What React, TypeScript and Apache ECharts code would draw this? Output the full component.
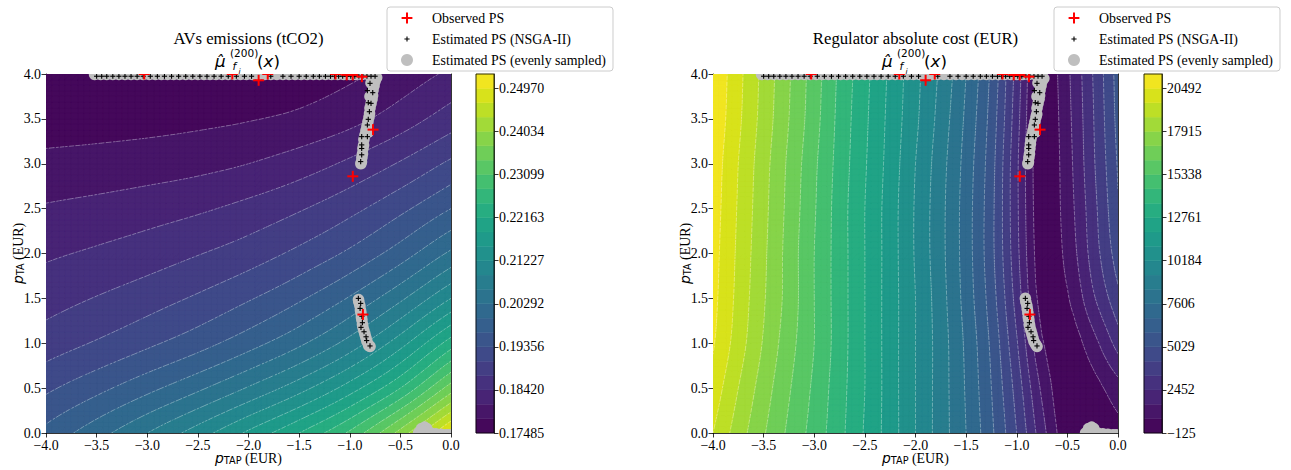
import React, { useEffect, useRef } from 'react';
import * as echarts from 'echarts';

// ---------------- data ----------------
const axisTicksX = [-4, -3.5, -3, -2.5, -2, -1.5, -1, -0.5, 0];
const axisTicksY = [0, 0.5, 1, 1.5, 2, 2.5, 3, 3.5, 4];

// Emissions surrogate mean (tCO2), rows = y (0 -> 4), cols = x (-4 -> 0)
const emissionsGridX = [-4, -3.5, -3, -2.5, -2, -1.5, -1, -0.5, 0];
const emissionsGridY = [0, 0.5, 1, 1.5, 2, 2.5, 3, 3.5, 4];
const emissionsValues = [
  [0.19762, 0.20167, 0.20604, 0.21072, 0.21602, 0.22163, 0.22849, 0.23847, 0.25064],
  [0.19294, 0.19575, 0.19887, 0.2023, 0.20635, 0.21103, 0.21695, 0.22475, 0.23567],
  [0.18888, 0.19076, 0.19294, 0.19543, 0.19855, 0.2023, 0.20729, 0.21415, 0.22319],
  [0.18608, 0.18748, 0.18904, 0.19091, 0.19325, 0.19621, 0.20011, 0.20541, 0.21228],
  [0.18374, 0.18467, 0.18577, 0.18717, 0.18888, 0.19122, 0.19419, 0.19824, 0.20354],
  [0.1814, 0.18202, 0.1828, 0.18374, 0.18514, 0.18701, 0.18951, 0.19278, 0.19668],
  [0.17875, 0.17906, 0.17953, 0.18015, 0.18109, 0.18265, 0.18483, 0.18764, 0.19107],
  [0.17672, 0.17688, 0.17703, 0.17735, 0.17781, 0.17859, 0.18015, 0.18265, 0.18577],
  [0.17579, 0.17579, 0.17579, 0.17594, 0.1761, 0.17641, 0.17735, 0.17922, 0.18171],
];
const emissionsColorbarTicks = [0.17485, 0.1842, 0.19356, 0.20292, 0.21227, 0.22163, 0.23099, 0.24034, 0.2497];
const emissionsColorbarLabels = ['0.17485', '0.18420', '0.19356', '0.20292', '0.21227', '0.22163', '0.23099', '0.24034', '0.24970'];

// Regulator absolute cost (EUR), rows = y (0 -> 4), cols = x (-4 -> 0)
const costGridX = [-4, -3.75, -3.5, -3.25, -3, -2.75, -2.5, -2.25, -2, -1.75, -1.5, -1.25, -1, -0.75, -0.5, -0.25, 0];
const costGridY = [0, 0.5, 1, 1.5, 2, 2.5, 3, 3.5, 4];
const costValues = [
  [19633, 18344, 17142, 16025, 14994, 13878, 12675, 11472, 10184, 8895, 7606, 6060, 4170, 1937, 133, 47, 390],
  [20148, 18774, 17486, 16283, 15166, 13964, 12761, 11472, 10184, 8895, 7520, 5888, 3827, 1421, 4, 390, 1249],
  [20578, 19203, 17829, 16540, 15338, 14049, 12761, 11472, 10184, 8895, 7435, 5716, 3397, 820, 219, 1249, 2796],
  [20750, 19375, 18001, 16712, 15338, 14049, 12761, 11472, 10184, 8809, 7263, 5459, 2968, 390, 648, 2280, 3913],
  [20836, 19461, 18087, 16712, 15338, 14049, 12761, 11472, 10098, 8723, 7177, 5287, 2710, 219, 992, 2796, 4600],
  [20922, 19547, 18173, 16798, 15424, 14049, 12761, 11472, 10098, 8723, 7177, 5287, 2624, 133, 1164, 2968, 4943],
  [21008, 19633, 18258, 16884, 15509, 14135, 12847, 11558, 10184, 8809, 7263, 5373, 2624, 90, 1249, 3139, 5115],
  [21179, 19805, 18430, 17056, 15681, 14221, 12933, 11644, 10355, 8981, 7435, 5545, 2796, 133, 1335, 3225, 5287],
  [21265, 19891, 18516, 17142, 15767, 14307, 13019, 11730, 10441, 9153, 7606, 5716, 2968, 219, 1421, 3311, 5373],
];
const costColorbarTicks = [-125, 2452, 5029, 7606, 10184, 12761, 15338, 17915, 20492];
const costColorbarLabels = ['\u2212125', '2452', '5029', '7606', '10184', '12761', '15338', '17915', '20492'];

// Pareto sets (same parameter space in both panels): [pTAP, pTA]
const observedPoints = [
  [-3.03, 4.0], [-2.16, 4.0], [-1.9, 3.93], [-1.81, 4.0], [-1.14, 4.0], [-1.03, 3.99],
  [-0.97, 3.99], [-0.88, 3.97], [-0.77, 3.38], [-0.97, 2.86], [-0.87, 1.32],
];
const nsgaPoints = [
  [-3.5, 3.975], [-3.45, 3.975], [-3.4, 3.975], [-3.34, 3.975], [-3.28, 3.975], [-3.22, 3.975],
  [-3.16, 3.975], [-3.1, 3.975], [-3.04, 3.975], [-2.97, 3.975], [-2.9, 3.975], [-2.83, 3.975],
  [-2.76, 3.975], [-2.69, 3.975], [-2.62, 3.975], [-2.55, 3.975], [-2.48, 3.975], [-2.41, 3.975],
  [-2.34, 3.975], [-2.27, 3.975], [-2.2, 3.975], [-2.12, 3.975], [-2.04, 3.975], [-1.97, 3.975],
  [-1.78, 3.975], [-1.66, 3.975], [-1.58, 3.975], [-1.5, 3.975], [-1.43, 3.975], [-1.36, 3.975],
  [-1.3, 3.975], [-1.24, 3.975], [-1.19, 3.975], [-1.15, 3.975], [-1.11, 3.975], [-1.07, 3.975],
  [-1.03, 3.975], [-0.99, 3.975], [-0.95, 3.975], [-0.91, 3.975], [-0.87, 3.975], [-0.83, 3.975],
  [-0.79, 3.975], [-0.75, 3.975],
  [-0.8, 3.896], [-0.826, 3.815], [-0.773, 3.792], [-0.817, 3.68], [-0.79, 3.673], [-0.806, 3.58],
  [-0.817, 3.495], [-0.826, 3.432], [-0.882, 3.302], [-0.826, 3.302], [-0.882, 3.21], [-0.882, 3.17],
  [-0.882, 3.1], [-0.892, 3.024],
  [-0.915, 1.5], [-0.892, 1.444], [-0.898, 1.388], [-0.88, 1.3], [-0.875, 1.229], [-0.889, 1.177],
  [-0.859, 1.128], [-0.839, 1.072], [-0.833, 1.03], [-0.8, 0.97],
];
const sampledPoints = [
  [-3.52, 3.995], [-3.46, 3.995], [-3.4, 3.995], [-3.34, 3.995], [-3.28, 3.995], [-3.22, 3.995],
  [-3.16, 3.995], [-3.1, 3.995], [-3.04, 3.995], [-2.98, 3.995], [-2.92, 3.995], [-2.86, 3.995],
  [-2.8, 3.995], [-2.74, 3.995], [-2.68, 3.995], [-2.62, 3.995], [-2.56, 3.995], [-2.5, 3.995],
  [-2.44, 3.995], [-2.38, 3.995], [-2.32, 3.995], [-2.26, 3.995], [-2.2, 3.995], [-2.14, 3.995],
  [-2.08, 3.995], [-2.02, 3.995], [-1.96, 3.995], [-1.9, 3.995], [-1.84, 3.995], [-1.78, 3.995],
  [-1.72, 3.995], [-1.66, 3.995], [-1.6, 3.995], [-1.54, 3.995], [-1.48, 3.995], [-1.42, 3.995],
  [-1.36, 3.995], [-1.3, 3.995], [-1.24, 3.995], [-1.18, 3.995], [-1.12, 3.995], [-1.06, 3.995],
  [-1.0, 3.995], [-0.94, 3.995], [-0.88, 3.995], [-0.82, 3.995], [-0.76, 3.995],
  [-0.735, 3.97], [-0.75, 3.92], [-0.76, 3.87], [-0.77, 3.82], [-0.775, 3.77], [-0.78, 3.72],
  [-0.79, 3.67], [-0.8, 3.62], [-0.805, 3.57], [-0.81, 3.52], [-0.82, 3.47], [-0.83, 3.42],
  [-0.84, 3.37], [-0.85, 3.32], [-0.86, 3.27], [-0.865, 3.22], [-0.87, 3.17], [-0.875, 3.12],
  [-0.88, 3.07], [-0.885, 3.03], [-0.89, 3.0], [-0.79, 3.9], [-0.8, 3.75], [-0.82, 3.35],
  [-0.915, 1.5], [-0.91, 1.46], [-0.9, 1.42], [-0.895, 1.38], [-0.89, 1.34], [-0.885, 1.3],
  [-0.88, 1.26], [-0.875, 1.22], [-0.87, 1.18], [-0.86, 1.14], [-0.85, 1.1], [-0.84, 1.06],
  [-0.83, 1.02], [-0.815, 0.99], [-0.8, 0.965],
  [-0.32, 0.0], [-0.29, 0.05], [-0.26, 0.065], [-0.24, 0.05], [-0.28, 0.02], [-0.2, 0.0],
  [-0.15, -0.01], [-0.1, -0.015], [-0.05, -0.02], [-0.02, -0.02],
];

// ---------------- styling helpers ----------------
const F = "'Liberation Serif', 'Times New Roman', serif";
const M = "'DejaVu Sans', sans-serif";
const BANDS_PER_TICK = 3;
const VIRIDIS = ['#440154', '#471365', '#482475', '#463480', '#414487', '#3b528b', '#355f8d', '#2f6c8e', '#2a788e', '#25848e', '#21918c', '#1e9c89', '#22a884', '#2fb47c', '#44bf70', '#5ec962', '#7ad151', '#9bd93c', '#bddf26', '#dfe318', '#fde725'];

function hexRgb(h: string) { return [1, 3, 5].map((i) => parseInt(h.slice(i, i + 2), 16)); }
function viridis(t: number) {
  const n = VIRIDIS.length - 1;
  const f = Math.min(Math.max(t, 0), 1) * n;
  const i = Math.min(Math.floor(f), n - 1);
  const u = f - i;
  const a = hexRgb(VIRIDIS[i]);
  const b = hexRgb(VIRIDIS[i + 1]);
  const c = a.map((v, k) => Math.round(v + (b[k] - v) * u));
  return `rgb(${c[0]},${c[1]},${c[2]})`;
}
function makeLevels(ticks: number[]) {
  const nb = (ticks.length - 1) * BANDS_PER_TICK;
  const step = (ticks[ticks.length - 1] - ticks[0]) / nb;
  const out: number[] = [];
  for (let k = 0; k <= nb + 1; k++) out.push(ticks[0] + k * step);
  return out;
}
function crSample(arr: number[], f: number) {
  const n = arr.length;
  let i = Math.floor(f);
  if (i > n - 2) i = n - 2;
  if (i < 0) i = 0;
  const t = f - i;
  const g = (k: number) => (k < 0 ? 2 * arr[0] - arr[1] : k > n - 1 ? 2 * arr[n - 1] - arr[n - 2] : arr[k]);
  const p0 = g(i - 1), p1 = g(i), p2 = g(i + 1), p3 = g(i + 2);
  return 0.5 * (2 * p1 + (p2 - p0) * t + (2 * p0 - 5 * p1 + 4 * p2 - p3) * t * t + (3 * p1 - p0 - 3 * p2 + p3) * t * t * t);
}
function refineField(gx: number[], gy: number[], vals: number[][], nx: number, ny: number) {
  const xs: number[] = [], ys: number[] = [];
  for (let i = 0; i <= nx; i++) xs.push(gx[0] + ((gx[gx.length - 1] - gx[0]) * i) / nx);
  for (let j = 0; j <= ny; j++) ys.push(gy[0] + ((gy[gy.length - 1] - gy[0]) * j) / ny);
  const rows = vals.map((row) => xs.map((_, i) => crSample(row, (i * (gx.length - 1)) / nx)));
  const v = ys.map((_, j) => xs.map((_, i) => crSample(rows.map((r) => r[i]), (j * (gy.length - 1)) / ny)));
  return { xs, ys, v };
}
function pixelGrid(api: any, field: any) {
  return field.ys.map((y: number, j: number) => field.xs.map((x: number, i: number) => {
    const p = api.coord([x, y]);
    return [p[0], p[1], field.v[j][i]];
  }));
}
function forEachTri(G: number[][][], cb: (t: number[][]) => void) {
  for (let j = 0; j < G.length - 1; j++) {
    for (let i = 0; i < G[0].length - 1; i++) {
      const a = G[j][i], b = G[j][i + 1], c = G[j + 1][i + 1], d = G[j + 1][i];
      cb([a, b, c]);
      cb([a, c, d]);
    }
  }
}
function clipPoly(poly: number[][], lvl: number, above: boolean) {
  const out: number[][] = [];
  for (let a = 0; a < poly.length; a++) {
    const P = poly[a], Q = poly[(a + 1) % poly.length];
    const pin = above ? P[2] >= lvl : P[2] <= lvl;
    const qin = above ? Q[2] >= lvl : Q[2] <= lvl;
    if (pin) out.push(P);
    if (pin !== qin) {
      const t = (lvl - P[2]) / (Q[2] - P[2]);
      out.push([P[0] + t * (Q[0] - P[0]), P[1] + t * (Q[1] - P[1]), lvl]);
    }
  }
  return out;
}
function bandPath(G: number[][][], lo: number, hi: number) {
  let s = '';
  forEachTri(G, (tri) => {
    const mn = Math.min(tri[0][2], tri[1][2], tri[2][2]);
    const mx = Math.max(tri[0][2], tri[1][2], tri[2][2]);
    if (mx < lo || mn >= hi) return;
    let poly = tri;
    if (mn < lo) poly = clipPoly(poly, lo, true);
    if (poly.length >= 3 && mx > hi) poly = clipPoly(poly, hi, false);
    if (poly.length < 3) return;
    s += 'M' + poly.map((p) => p[0].toFixed(2) + ' ' + p[1].toFixed(2)).join('L') + 'Z';
  });
  return s;
}
function levelPath(G: number[][][], L: number) {
  let s = '';
  forEachTri(G, (tri) => {
    const pts: number[][] = [];
    for (let e = 0; e < 3; e++) {
      const P = tri[e], Q = tri[(e + 1) % 3];
      if ((P[2] < L) !== (Q[2] < L)) {
        const t = (L - P[2]) / (Q[2] - P[2]);
        pts.push([P[0] + t * (Q[0] - P[0]), P[1] + t * (Q[1] - P[1])]);
      }
    }
    if (pts.length === 2) s += `M${pts[0][0].toFixed(2)} ${pts[0][1].toFixed(2)}L${pts[1][0].toFixed(2)} ${pts[1][1].toFixed(2)}`;
  });
  return s;
}

const fmtAxis = (v: number) => (v < -1e-9 ? '\u2212' : '') + Math.abs(v).toFixed(1);
const nameRich = {
  p: { fontFamily: M, fontStyle: 'italic', fontSize: 13.9, color: '#000', lineHeight: 14 },
  s: { fontFamily: M, fontSize: 9.7, color: '#000', lineHeight: 9, verticalAlign: 'bottom' },
  n: { fontFamily: F, fontSize: 13.9, color: '#000', lineHeight: 14 },
};
const lineStyleK = { color: '#000', width: 0.8 };

function fieldSeries(field: any, levels: number[], xi: number, yi: number) {
  const nb = levels.length - 1;
  const colors: string[] = [];
  for (let k = 0; k < nb; k++) colors.push(viridis((k + 0.5) / nb));
  const fill = {
    type: 'custom', name: 'field', xAxisIndex: xi, yAxisIndex: yi, clip: true, silent: true, z: 1,
    data: colors.map((_, k) => [k, 0]),
    renderItem: (params: any, api: any) => {
      const k = api.value(0);
      const G = pixelGrid(api, field);
      const d = bandPath(G, k === 0 ? -Infinity : levels[k], k === nb - 1 ? Infinity : levels[k + 1]);
      if (!d) return { type: 'group', children: [] };
      return { type: 'path', shape: { pathData: d }, style: { fill: colors[k], stroke: colors[k], lineWidth: 0.6 } };
    },
  };
  const lines = {
    type: 'custom', name: 'contours', xAxisIndex: xi, yAxisIndex: yi, clip: true, silent: true, z: 2,
    data: levels.slice(1, nb).map((_, k) => [k + 1, 0]),
    renderItem: (params: any, api: any) => {
      const k = api.value(0);
      const G = pixelGrid(api, field);
      const d = levelPath(G, levels[k]);
      if (!d) return { type: 'group', children: [] };
      return { type: 'path', shape: { pathData: d }, style: { fill: 'none', stroke: 'rgba(255,255,255,0.55)', lineWidth: 0.6, lineDash: [2.2, 1.6] } };
    },
  };
  return { fill, lines, colors };
}

function colorbarSeries(levels: number[], colors: string[], xi: number, yi: number) {
  const nb = colors.length;
  return [
    {
      type: 'custom', name: 'colorbar', xAxisIndex: xi, yAxisIndex: yi, silent: true, z: 1,
      data: colors.map((_, k) => [k, 0]),
      renderItem: (params: any, api: any) => {
        const k = api.value(0);
        const p0 = api.coord([0, levels[k]]);
        const p1 = api.coord([1, levels[k + 1]]);
        return { type: 'rect', shape: { x: p0[0], y: p1[1], width: p1[0] - p0[0], height: p0[1] - p1[1] }, style: { fill: colors[k], stroke: colors[k], lineWidth: 0.5 } };
      },
    },
    {
      type: 'custom', name: 'colorbar-frame', xAxisIndex: xi, yAxisIndex: yi, silent: true, z: 3,
      data: [[0, 0]],
      renderItem: (params: any, api: any) => {
        const a = api.coord([0, levels[nb]]);
        const b = api.coord([1, levels[0]]);
        return { type: 'rect', shape: { x: a[0], y: a[1], width: b[0] - a[0], height: b[1] - a[1] }, style: { fill: 'none', stroke: '#000', lineWidth: 0.8 } };
      },
    },
  ];
}

function pointSeries(name: string, pts: number[][], kind: string, xi: number, yi: number) {
  const color = kind === 'red' ? '#ff0000' : kind === 'black' ? '#000000' : '#bfbfbf';
  return {
    type: 'custom', name, xAxisIndex: xi, yAxisIndex: yi, clip: true, silent: true,
    z: kind === 'red' ? 6 : kind === 'black' ? 5 : 4,
    itemStyle: { color },
    data: pts,
    renderItem: (params: any, api: any) => {
      const p = api.coord([api.value(0), api.value(1)]);
      if (kind === 'gray') return { type: 'circle', shape: { cx: p[0], cy: p[1], r: 5.8 }, style: { fill: color } };
      const r = kind === 'red' ? 5.5 : 2.6;
      const w = kind === 'red' ? 2 : 1.1;
      return {
        type: 'group',
        children: [
          { type: 'line', shape: { x1: p[0] - r, y1: p[1], x2: p[0] + r, y2: p[1] }, style: { stroke: color, lineWidth: w } },
          { type: 'line', shape: { x1: p[0], y1: p[1] - r, x2: p[0], y2: p[1] + r }, style: { stroke: color, lineWidth: w } },
        ],
      };
    },
  };
}

const RED_PLUS = 'path://M0,0M12,12M0.6,5H11.4V7H0.6ZM5,0.6H7V11.4H5Z';
const BLACK_PLUS = 'path://M0,0M12,12M3.4,5.45H8.6V6.55H3.4ZM5.45,3.4H6.55V8.6H5.45Z';

function legendAt(left: number) {
  return {
    left, top: 7, orient: 'vertical', itemWidth: 40, itemHeight: 12, itemGap: 7,
    padding: [4, 7, 4, 14], backgroundColor: 'rgba(255,255,255,0.8)', borderColor: '#cccccc', borderWidth: 1, borderRadius: 3,
    selectedMode: false,
    textStyle: { fontFamily: F, fontSize: 13.9, color: '#000', lineHeight: 14 },
    data: [
      { name: 'Observed PS', icon: RED_PLUS },
      { name: 'Estimated PS (NSGA-II)', icon: BLACK_PLUS },
      { name: 'Estimated PS (evenly sampled)', icon: 'circle' },
    ],
  };
}

function titleGraphics(cx: number, title: string, dx: number) {
  const t = (x: number, y: number, text: string, size: number, italic: boolean, family = M, align = 'left') => ({
    type: 'text', x, y, silent: true,
    style: { text, fontFamily: family, fontSize: size, fontStyle: italic ? 'italic' : 'normal', fill: '#000', align, verticalAlign: 'middle' },
  });
  return [
    t(cx, 38, title, 16.7, false, F, 'center'),
    t(215 + dx, 61, 'μ\u0302', 16.7, true),
    t(230 + dx, 53, '(200)', 10.5, false),
    t(232.5 + dx, 66, 'f', 10.5, true),
    t(238.5 + dx, 71, 'i', 7.5, true),
    t(257 + dx, 61, '(', 16.7, false),
    t(263.5 + dx, 61, 'x', 16.7, true),
    t(273.5 + dx, 61, ')', 16.7, false),
  ];
}

function mainAxes(gridIndex: number) {
  const x = [
    {
      type: 'value', gridIndex, min: -4, max: 0, interval: 0.5, position: 'bottom',
      axisLine: { show: true, onZero: false, lineStyle: lineStyleK },
      axisTick: { show: true, length: 4.5, lineStyle: lineStyleK },
      axisLabel: { show: true, margin: 5.5, color: '#000', fontFamily: F, fontSize: 13.9, lineHeight: 13, formatter: fmtAxis },
      splitLine: { show: false },
      name: '{p|p}{s|TAP}{n| (EUR)}', nameLocation: 'middle', nameGap: 18, nameMoveOverlap: false,
      nameTextStyle: { rich: nameRich },
    },
    {
      type: 'value', gridIndex, min: -4, max: 0, position: 'top',
      axisLine: { show: true, onZero: false, lineStyle: lineStyleK },
      axisTick: { show: false }, axisLabel: { show: false }, splitLine: { show: false },
    },
  ];
  const y = [
    {
      type: 'value', gridIndex, min: 0, max: 4, interval: 0.5, position: 'left',
      axisLine: { show: true, onZero: false, lineStyle: lineStyleK },
      axisTick: { show: true, length: 4.5, lineStyle: lineStyleK },
      axisLabel: { show: true, margin: 5, color: '#000', fontFamily: F, fontSize: 13.9, lineHeight: 10, formatter: fmtAxis },
      splitLine: { show: false },
      name: '{p|p}{s|TA}{n| (EUR)}', nameLocation: 'middle', nameGap: 21, nameRotate: 90, nameMoveOverlap: false,
      nameTextStyle: { rich: nameRich },
    },
    {
      type: 'value', gridIndex, min: 0, max: 4, position: 'right',
      axisLine: { show: true, onZero: false, lineStyle: lineStyleK },
      axisTick: { show: false }, axisLabel: { show: false }, splitLine: { show: false },
    },
  ];
  return { x, y };
}

function colorbarAxes(gridIndex: number, levels: number[], ticks: number[], labels: string[]) {
  const nb = levels.length - 1;
  const label = (v: number) => {
    let best = 0;
    for (let i = 1; i < ticks.length; i++) if (Math.abs(ticks[i] - v) < Math.abs(ticks[best] - v)) best = i;
    return labels[best];
  };
  return {
    x: { type: 'value', gridIndex, min: 0, max: 1, show: false },
    y: {
      type: 'value', gridIndex, min: levels[0], max: levels[nb], position: 'right',
      axisLine: { show: true, onZero: false, lineStyle: lineStyleK },
      axisTick: { show: true, length: 4.5, lineStyle: lineStyleK, customValues: ticks },
      axisLabel: { show: true, margin: 5, color: '#000', fontFamily: F, fontSize: 13.9, lineHeight: 14, customValues: ticks, formatter: label },
      splitLine: { show: false },
    },
  };
}

function buildOption() {
  const eLevels = makeLevels(emissionsColorbarTicks);
  const cLevels = makeLevels(costColorbarTicks);
  const eField = refineField(emissionsGridX, emissionsGridY, emissionsValues, 64, 64);
  const cField = refineField(costGridX, costGridY, costValues, 64, 64);

  const a0 = mainAxes(0);
  const cb0 = colorbarAxes(1, eLevels, emissionsColorbarTicks, emissionsColorbarLabels);
  const a1 = mainAxes(2);
  const cb1 = colorbarAxes(3, cLevels, costColorbarTicks, costColorbarLabels);

  const e = fieldSeries(eField, eLevels, 0, 0);
  const c = fieldSeries(cField, cLevels, 3, 3);

  const series: any[] = [
    e.fill, e.lines,
    ...colorbarSeries(eLevels, e.colors, 2, 2),
    pointSeries('Estimated PS (evenly sampled)', sampledPoints, 'gray', 0, 0),
    pointSeries('Estimated PS (NSGA-II)', nsgaPoints, 'black', 0, 0),
    pointSeries('Observed PS', observedPoints, 'red', 0, 0),
    c.fill, c.lines,
    ...colorbarSeries(cLevels, c.colors, 5, 5),
    pointSeries('Estimated PS (evenly sampled)', sampledPoints, 'gray', 3, 3),
    pointSeries('Estimated PS (NSGA-II)', nsgaPoints, 'black', 3, 3),
    pointSeries('Observed PS', observedPoints, 'red', 3, 3),
  ];

  return {
    animation: false,
    backgroundColor: '#ffffff',
    grid: [
      { left: 46, top: 74, width: 405, height: 359, show: false, outerBoundsMode: 'none' },
      { left: 476, top: 74, width: 18, height: 359, show: false, outerBoundsMode: 'none' },
      { left: 713, top: 74, width: 405, height: 359, show: false, outerBoundsMode: 'none' },
      { left: 1144, top: 74, width: 18, height: 359, show: false, outerBoundsMode: 'none' },
    ],
    xAxis: [a0.x[0], a0.x[1], cb0.x, a1.x[0], a1.x[1], cb1.x],
    yAxis: [a0.y[0], a0.y[1], cb0.y, a1.y[0], a1.y[1], cb1.y],
    legend: [legendAt(387), legendAt(1054)],
    graphic: [
      ...titleGraphics(248.5, 'AVs emissions (tCO2)', 0),
      ...titleGraphics(915.5, 'Regulator absolute cost (EUR)', 667),
    ],
    series,
  };
}

export default function App() {
  const ref = useRef<HTMLDivElement>(null);
  useEffect(() => {
    if (!ref.current) return;
    const chart = echarts.init(ref.current, null, { renderer: 'svg', width: 1291, height: 470 });
    chart.setOption(buildOption() as any);
    return () => chart.dispose();
  }, []);
  return <div ref={ref} style={{ position: 'absolute', left: 0, top: 0, width: 1291, height: 470, background: '#fff' }} />;
}
